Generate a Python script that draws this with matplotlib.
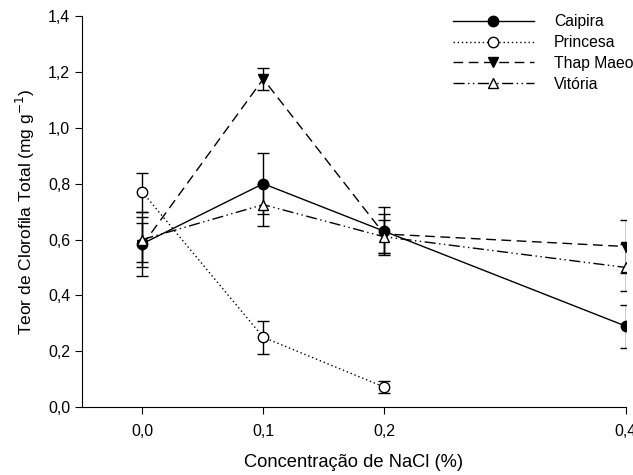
import matplotlib.pyplot as plt
from matplotlib.lines import Line2D
from matplotlib.ticker import FuncFormatter

plt.rcParams['font.family'] = ['Liberation Sans', 'DejaVu Sans']

# data
nacl = [0.0, 0.1, 0.2, 0.4]
caipira = [0.585, 0.80, 0.63, 0.29]
caipira_err = [0.115, 0.11, 0.085, 0.077]
princesa = [0.77, 0.25, 0.072]
princesa_err = [0.07, 0.06, 0.022]
thap_maeo = [0.58, 1.175, 0.62, 0.575]
thap_maeo_err = [0.08, 0.04, 0.07, 0.095]
vitoria = [0.60, 0.725, 0.61, 0.50]
vitoria_err = [0.08, 0.075, 0.06, 0.085]

fig = plt.figure(figsize=(6.33, 4.75), dpi=100)
ax = fig.add_axes([0.1295, 0.143, 0.859, 0.823])

styles = [
    ('Caipira', 'o', '-', 'black'),
    ('Princesa', 'o', (0, (1, 2)), 'white'),
    ('Thap Maeo', 'v', (0, (7, 4)), 'black'),
    ('Vitória', '^', (0, (8, 2.5, 1, 2.5, 1, 2.5)), 'white'),
]
series = [
    (nacl, caipira, caipira_err),
    (nacl[:3], princesa, princesa_err),
    (nacl, thap_maeo, thap_maeo_err),
    (nacl, vitoria, vitoria_err),
]

handles = []
for (label, mk, ls, fc), (x, y, e) in zip(styles, series):
    ax.errorbar(x, y, yerr=e, marker=mk, linestyle=ls, color='black', linewidth=1,
                markersize=7.5, markerfacecolor=fc, markeredgewidth=1,
                capsize=4.5, elinewidth=1, capthick=1)
    handles.append(Line2D([], [], color='black', linewidth=1, linestyle=ls, marker=mk,
                          markersize=7.5, markerfacecolor=fc, label=label))

ax.set_xlim(-0.05, 0.4)
ax.set_ylim(0, 1.4)
ax.set_xticks(nacl)
ax.set_yticks([0, 0.2, 0.4, 0.6, 0.8, 1.0, 1.2, 1.4])
comma = FuncFormatter(lambda v, p: f"{v:.1f}".replace('.', ','))
ax.xaxis.set_major_formatter(comma)
ax.yaxis.set_major_formatter(comma)
ax.tick_params(direction='out', labelsize=11.5, length=5)
ax.tick_params(axis='x', pad=7)
ax.spines['top'].set_visible(False)
ax.spines['right'].set_visible(False)

ax.set_xlabel('Concentração de NaCl (%)', fontsize=13.2, labelpad=11)
ax.set_ylabel('Teor de Clorofila Total (mg g$^{-1}$)', fontsize=12.5, labelpad=8)

ax.legend(handles=handles, loc='upper left', frameon=False, fontsize=11.3,
          handlelength=5.15, handletextpad=1.3, labelspacing=0.37, borderpad=0,
          borderaxespad=0, bbox_to_anchor=(0.682, 1.005))

fig.savefig('out.png', dpi=100)
